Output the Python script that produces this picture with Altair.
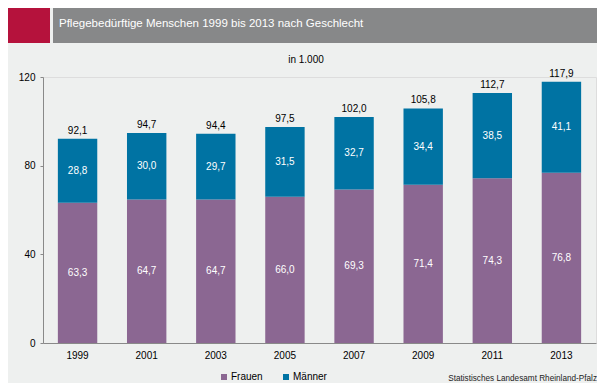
import altair as alt
import pandas as pd

years = ["1999", "2001", "2003", "2005", "2007", "2009", "2011", "2013"]
frauen = [63.3, 64.7, 64.7, 66.0, 69.3, 71.4, 74.3, 76.8]
maenner = [28.8, 30.0, 29.7, 31.5, 32.7, 34.4, 38.5, 41.1]
totals = [92.1, 94.7, 94.4, 97.5, 102.0, 105.8, 112.7, 117.9]
groups = ["Frauen", "Männer"]
colors = ["#8B6792", "#0073A3"]
y_ticks = [0, 40, 80, 120]

title_text = "Pflegebedürftige Menschen 1999 bis 2013 nach Geschlecht"
unit_text = "in 1.000"
source_text = "Statistisches Landesamt Rheinland-Pfalz"


def de(v):
    return f"{v:.1f}".replace(".", ",")


rows = []
for i, yr in enumerate(years):
    rows.append(dict(jahr=yr, gruppe=groups[0], wert=frauen[i], ord=0,
                     mitte=frauen[i] / 2, label=de(frauen[i])))
    rows.append(dict(jahr=yr, gruppe=groups[1], wert=maenner[i], ord=1,
                     mitte=frauen[i] + maenner[i] / 2, label=de(maenner[i])))
df = pd.DataFrame(rows)
tot = pd.DataFrame(dict(jahr=years, total=totals, label=[de(v) for v in totals]))
one = pd.DataFrame({"a": [0]})

W, H = 553, 266
FONT = "Liberation Sans"
AXIS_GRAY = "#898989"

x = alt.X(
    "jahr:N",
    sort=years,
    scale=alt.Scale(paddingInner=0.43, paddingOuter=0.215),
    axis=alt.Axis(title=None, labelAngle=0, ticks=False, domainColor=AXIS_GRAY,
                  labelFontSize=10, labelPadding=7, labelColor="#000000"),
)
yscale = alt.Scale(domain=[0, 120], nice=False, zero=True)

bars = alt.Chart(df).mark_bar(strokeWidth=0).encode(
    x=x,
    y=alt.Y("wert:Q", stack="zero", scale=yscale,
            axis=alt.Axis(values=y_ticks, title=None, grid=False, tickSize=3,
                          tickColor=AXIS_GRAY, domainColor=AXIS_GRAY,
                          labelFontSize=10, labelPadding=5, labelColor="#000000")),
    color=alt.Color("gruppe:N",
                    scale=alt.Scale(domain=groups, range=colors),
                    legend=alt.Legend(orient="none", legendX=176, legendY=295,
                                      direction="horizontal", title=None,
                                      symbolType="square", symbolSize=36,
                                      symbolStrokeWidth=0, labelFontSize=10,
                                      labelOffset=2, columnPadding=18, padding=0,
                                      labelColor="#000000")),
    order=alt.Order("ord:Q"),
)

inner = alt.Chart(df).mark_text(color="white", fontSize=10, baseline="middle").encode(
    x=x,
    y=alt.Y("mitte:Q", scale=yscale),
    text="label:N",
)

top = alt.Chart(tot).mark_text(color="#000000", fontSize=10, baseline="bottom", dy=-3).encode(
    x=x,
    y=alt.Y("total:Q", scale=yscale),
    text="label:N",
)

red_box = alt.Chart(one).mark_rect(color="#B5123C").encode(
    x=alt.value(-35), x2=alt.value(7), y=alt.value(-69), y2=alt.value(-34))
gray_box = alt.Chart(one).mark_rect(color="#878889").encode(
    x=alt.value(10), x2=alt.value(554), y=alt.value(-69), y2=alt.value(-34))
title = alt.Chart(one).mark_text(color="white", fontSize=11.5, align="left",
                                 baseline="middle", text=title_text).encode(
    x=alt.value(16), y=alt.value(-53))
unit = alt.Chart(one).mark_text(color="#000000", fontSize=10, align="center",
                                baseline="middle", text=unit_text).encode(
    x=alt.value(263), y=alt.value(-17))
source = alt.Chart(one).mark_text(color="#222222", fontSize=8.2, align="right",
                                  baseline="middle", text=source_text).encode(
    x=alt.value(554), y=alt.value(302))

chart = alt.layer(red_box, gray_box, title, unit, bars, inner, top, source).properties(
    width=W, height=H,
    autosize=alt.AutoSizeParams(type="none"),
    padding={"left": 35, "top": 69, "right": 1, "bottom": 40},
    background="#EEF0EF",
).configure_view(stroke=None).configure(font=FONT)

chart.save("out.html", embed_options={"renderer": "svg", "actions": False})
